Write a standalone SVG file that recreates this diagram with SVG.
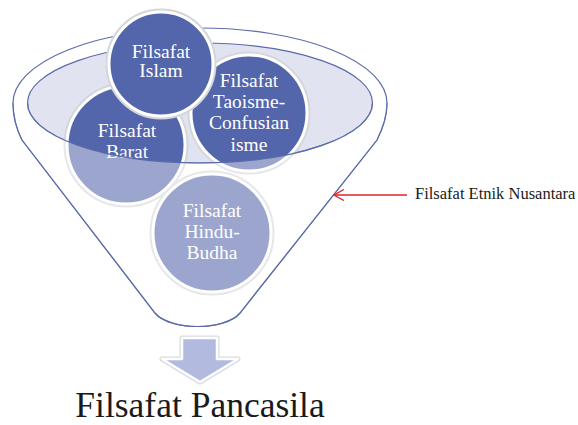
<svg xmlns="http://www.w3.org/2000/svg" width="578" height="425" viewBox="0 0 578 425">
<style>
.edge{fill:none;stroke:#5A6BA8;stroke-width:1.2}
.ball-shadow{fill:none;stroke:#D4D6DC;stroke-width:5}
.ball{fill:#5365AB;stroke:#FFFFFF;stroke-width:3}
.lbl{font-family:"Liberation Serif","DejaVu Serif",serif;font-size:19.5px;fill:#FFFFFF;text-anchor:middle}
.note{font-family:"Liberation Serif","DejaVu Serif",serif;fill:#1A1A1A}
</style>
<defs>
<marker id="openHead" viewBox="0 0 12 12" refX="11" refY="6" markerWidth="12" markerHeight="12" markerUnits="userSpaceOnUse" orient="auto">
<path d="M1,0.5 L11,6 L1,11.5" fill="none" stroke="#E02424" stroke-width="1.3"/>
</marker>
</defs>
<rect width="578" height="425" fill="#FFFFFF"/>
<g id="funnel-back">
<path d="M13,103 A187,75 0 0 1 387,103 C387,115 383,128 377,140 L240,313 C225,331 170,331 155,313 L22,140 C16,128 13,115 13,103 Z" fill="#FFFFFF" class="edge"/>
<ellipse cx="200" cy="103" rx="172.5" ry="60" fill="#E1E4F0" stroke="#5A6BA8" stroke-width="1.2"/>
</g>
<g id="barat">
<circle cx="126" cy="145" r="60" class="ball-shadow"/>
<circle cx="126" cy="145" r="59" class="ball"/>
<text class="lbl" x="127" y="137">Filsafat</text>
<text class="lbl" x="127" y="158">Barat</text>
</g>
<g id="taoisme">
<circle cx="249" cy="113" r="59" class="ball-shadow"/>
<circle cx="249" cy="113" r="58" class="ball"/>
<text class="lbl" x="249" y="87">Filsafat</text>
<text class="lbl" x="249" y="108">Taoisme-</text>
<text class="lbl" x="249" y="129">Confusian</text>
<text class="lbl" x="249" y="151">isme</text>
</g>
<g id="islam">
<circle cx="161" cy="64" r="53" class="ball-shadow"/>
<circle cx="161" cy="64" r="52" class="ball"/>
<text class="lbl" x="161" y="58">Filsafat</text>
<text class="lbl" x="161" y="77">Islam</text>
</g>
<g id="hindu">
<circle cx="212" cy="233" r="60" class="ball-shadow"/>
<circle cx="212" cy="233" r="59" class="ball"/>
<text class="lbl" x="212" y="217">Filsafat</text>
<text class="lbl" x="212" y="238">Hindu-</text>
<text class="lbl" x="212" y="259">Budha</text>
</g>
<g id="funnel-front">
<path d="M13,103 L27.5,103 A172.5,60 0 0 0 372.5,103 L387,103 C387,115 383,128 377,140 L240,313 C225,331 170,331 155,313 L22,140 C16,128 13,115 13,103 Z" fill="#FFFFFF" fill-opacity="0.42"/>
<path d="M27.5,103 A172.5,60 0 0 0 372.5,103" class="edge"/>
<path d="M13,103 C13,115 16,128 22,140 L155,313 C170,331 225,331 240,313 L377,140 C383,128 387,115 387,103" class="edge"/>
</g>
<g id="pancasila-arrow">
<path d="M182,338 L217,338 L217,359 L238,359 L200,382 L162,359 L182,359 Z" fill="none" stroke="#D9DBE2" stroke-width="5" stroke-linejoin="round"/>
<path d="M182,338 L217,338 L217,359 L238,359 L200,382 L162,359 L182,359 Z" fill="#B2BBDF" stroke="#FFFFFF" stroke-width="2.5" stroke-linejoin="round"/>
</g>
<g id="connectors">
<line x1="407" y1="195" x2="334" y2="195" stroke="#E02424" stroke-width="1.3" marker-end="url(#openHead)"/>
</g>
<g id="etnik">
<text class="note" x="415" y="199" font-size="16.5">Filsafat Etnik Nusantara</text>
</g>
<g id="pancasila">
<text class="note" x="200" y="417" font-size="35.5" text-anchor="middle">Filsafat Pancasila</text>
</g>
</svg>
